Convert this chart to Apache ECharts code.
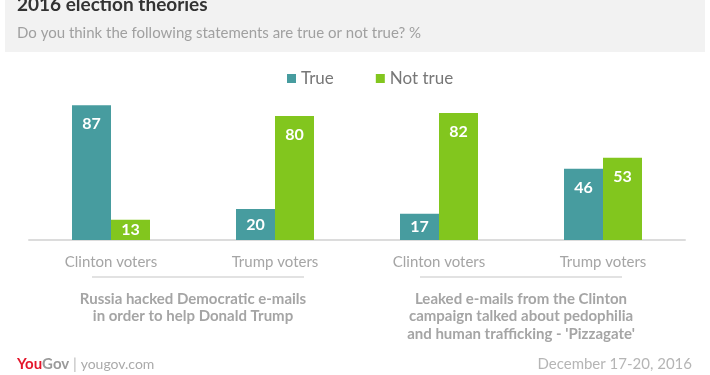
<!DOCTYPE html>
<html>
<head>
<meta charset="utf-8">
<script src="https://cdn.jsdelivr.net/npm/echarts@6/dist/echarts.min.js"></script>
<style>
  html, body { margin: 0; padding: 0; background: #fff; }
  #chart { width: 710px; height: 375px; }
</style>
</head>
<body>
<div id="chart"></div>
<script>
// data
const voters = ['Clinton voters', 'Trump voters', 'Clinton voters', 'Trump voters']
const statements = [
  'Russia hacked Democratic e-mails\nin order to help Donald Trump',
  "Leaked e-mails from the Clinton\ncampaign talked about pedophilia\nand human trafficking - 'Pizzagate'"
]
const trueVals = [87, 20, 17, 46]
const notTrueVals = [13, 80, 82, 53]

const TEAL = '#479c9f'
const GREEN = '#82c61e'
const FONT = 'Lato'

// small bars get the label centred, tall ones near the top
function withLabels(vals) {
  return vals.map(v => ({
    value: v,
    label: v < 30 ? { position: 'inside' } : { position: 'insideTop', distance: 11 }
  }))
}

const chart = echarts.init(document.getElementById('chart'), null, { renderer: 'canvas' })

chart.setOption({
  backgroundColor: '#fff',
  textStyle: { fontFamily: FONT },
  animation: false,
  graphic: [
    { type: 'rect', shape: { x: 5, y: 0, width: 700, height: 52 }, style: { fill: '#f2f2f2' }, z: -1 },
    { type: 'text', left: 17, top: -5, style: { text: '2016 election theories', font: 'bold 19px ' + FONT, fill: '#333' } },
    { type: 'text', left: 17, top: 26, style: { text: 'Do you think the following statements are true or not true? %', font: '15px ' + FONT, fill: '#a0a0a0' } },
    { type: 'line', shape: { x1: 92, y1: 277, x2: 304, y2: 277 }, style: { stroke: '#d8d8d8', lineWidth: 1.5 } },
    { type: 'line', shape: { x1: 420, y1: 277, x2: 622, y2: 277 }, style: { stroke: '#d8d8d8', lineWidth: 1.5 } },
    {
      type: 'text', left: 17, top: 357,
      style: {
        text: '{r|You}{g|Gov}{s| | }{u|yougov.com}',
        rich: {
          r: { font: 'bold 15px ' + FONT, fill: '#e4162b' },
          g: { font: 'bold 15px ' + FONT, fill: '#9a9a9a' },
          s: { font: '15px ' + FONT, fill: '#bbb' },
          u: { font: '14px ' + FONT, fill: '#aaa' }
        }
      }
    },
    { type: 'text', right: 18, top: 357, style: { text: 'December 17-20, 2016', font: '15px ' + FONT, fill: '#b5b5b5' } }
  ],
  legend: {
    top: 65,
    left: 282,
    itemGap: 42,
    itemWidth: 9,
    itemHeight: 9,
    icon: 'rect',
    textStyle: { fontSize: 17, color: '#777', fontFamily: FONT }
  },
  grid: { left: 29, right: 25, top: 85, bottom: 135 },
  xAxis: [
    {
      type: 'category',
      data: voters,
      axisLine: { lineStyle: { color: '#dcdcdc', width: 2 } },
      axisTick: { show: false },
      axisLabel: { color: '#a5a5a5', fontSize: 15, margin: 15, fontFamily: FONT }
    },
    {
      type: 'category',
      data: statements,
      position: 'bottom',
      offset: 42,
      axisLine: { show: false },
      axisTick: { show: false },
      axisLabel: { color: '#a5a5a5', fontSize: 15, fontWeight: 'bold', lineHeight: 17.5, fontFamily: FONT, align: 'center', verticalAlign: 'top' }
    }
  ],
  yAxis: { type: 'value', min: 0, max: 100, show: false },
  series: [
    {
      name: 'True', type: 'bar', data: withLabels(trueVals),
      barWidth: 39, barGap: '0%',
      itemStyle: { color: TEAL },
      label: { show: true, color: '#fff', fontSize: 16, fontWeight: 'bold', fontFamily: FONT }
    },
    {
      name: 'Not true', type: 'bar', data: withLabels(notTrueVals),
      barWidth: 39, barGap: '0%',
      itemStyle: { color: GREEN },
      label: { show: true, color: '#fff', fontSize: 16, fontWeight: 'bold', fontFamily: FONT }
    }
  ]
})
</script>
</body>
</html>
